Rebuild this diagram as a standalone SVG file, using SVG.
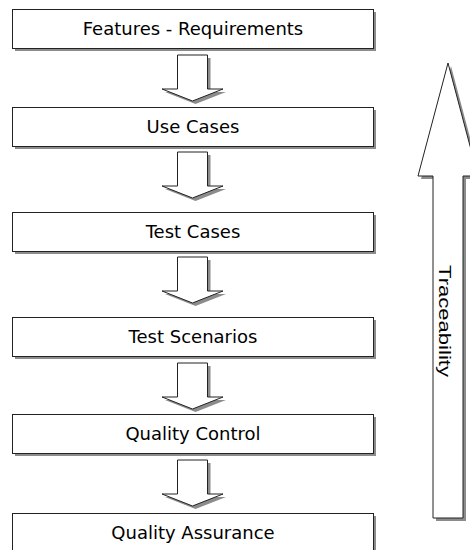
<svg xmlns="http://www.w3.org/2000/svg" width="470" height="550" viewBox="0 0 470 550">
  <style>
    .box { fill: #ffffff; stroke: #222222; stroke-width: 1; }
    .shadow { fill: #8c8c8c; stroke: none; }
    .arrow { fill: #ffffff; stroke: #222222; stroke-width: 1; stroke-linejoin: miter; }
    .label { font-family: "DejaVu Sans", "Noto Sans", sans-serif; font-size: 18px; fill: #000000; text-anchor: middle; }
    .trace { font-family: "Liberation Sans", Arial, sans-serif; font-size: 16px; fill: #000000; text-anchor: middle; }
  </style>
  <defs>
    <path id="down" d="M177.5,0 H207.5 V34 H223 L192.5,46 L162,34 H177.5 Z"/>
  </defs>

  <g id="connectors">
    <g transform="translate(0,55)"><use href="#down" class="shadow" transform="translate(3,3)"/><use href="#down" class="arrow"/></g>
    <g transform="translate(0,152)"><use href="#down" class="shadow" transform="translate(3,3)"/><use href="#down" class="arrow"/></g>
    <g transform="translate(0,257)"><use href="#down" class="shadow" transform="translate(3,3)"/><use href="#down" class="arrow"/></g>
    <g transform="translate(0,363)"><use href="#down" class="shadow" transform="translate(3,3)"/><use href="#down" class="arrow"/></g>
    <g transform="translate(0,460)"><use href="#down" class="shadow" transform="translate(3,3)"/><use href="#down" class="arrow"/></g>
  </g>

  <g id="node-features">
    <rect class="shadow" x="15" y="12" width="361" height="39"/>
    <rect class="box" x="12.5" y="9.5" width="361" height="39"/>
    <text class="label" x="193" y="35">Features - Requirements</text>
  </g>
  <g id="node-use-cases">
    <rect class="shadow" x="15" y="110" width="361" height="39"/>
    <rect class="box" x="12.5" y="107.5" width="361" height="39"/>
    <text class="label" x="193" y="133">Use Cases</text>
  </g>
  <g id="node-test-cases">
    <rect class="shadow" x="15" y="215" width="361" height="39"/>
    <rect class="box" x="12.5" y="212.5" width="361" height="39"/>
    <text class="label" x="193" y="238">Test Cases</text>
  </g>
  <g id="node-test-scenarios">
    <rect class="shadow" x="15" y="320" width="361" height="39"/>
    <rect class="box" x="12.5" y="317.5" width="361" height="39"/>
    <text class="label" x="193" y="343">Test Scenarios</text>
  </g>
  <g id="node-quality-control">
    <rect class="shadow" x="15" y="417" width="361" height="39"/>
    <rect class="box" x="12.5" y="414.5" width="361" height="39"/>
    <text class="label" x="193" y="440">Quality Control</text>
  </g>
  <g id="node-quality-assurance">
    <rect class="shadow" x="15" y="516" width="361" height="39"/>
    <rect class="box" x="12.5" y="513.5" width="361" height="39"/>
    <text class="label" x="193" y="539">Quality Assurance</text>
  </g>

  <g id="node-traceability">
    <polygon class="shadow" points="451,66 481,179 466,179 466,521 436,521 436,179 421,179"/>
    <polygon class="arrow" points="448,63 478,176 463,176 463,518 433,518 433,176 418,176"/>
    <text class="trace" transform="translate(439,321) rotate(90)" textLength="112" lengthAdjust="spacingAndGlyphs">Traceability</text>
  </g>
</svg>
